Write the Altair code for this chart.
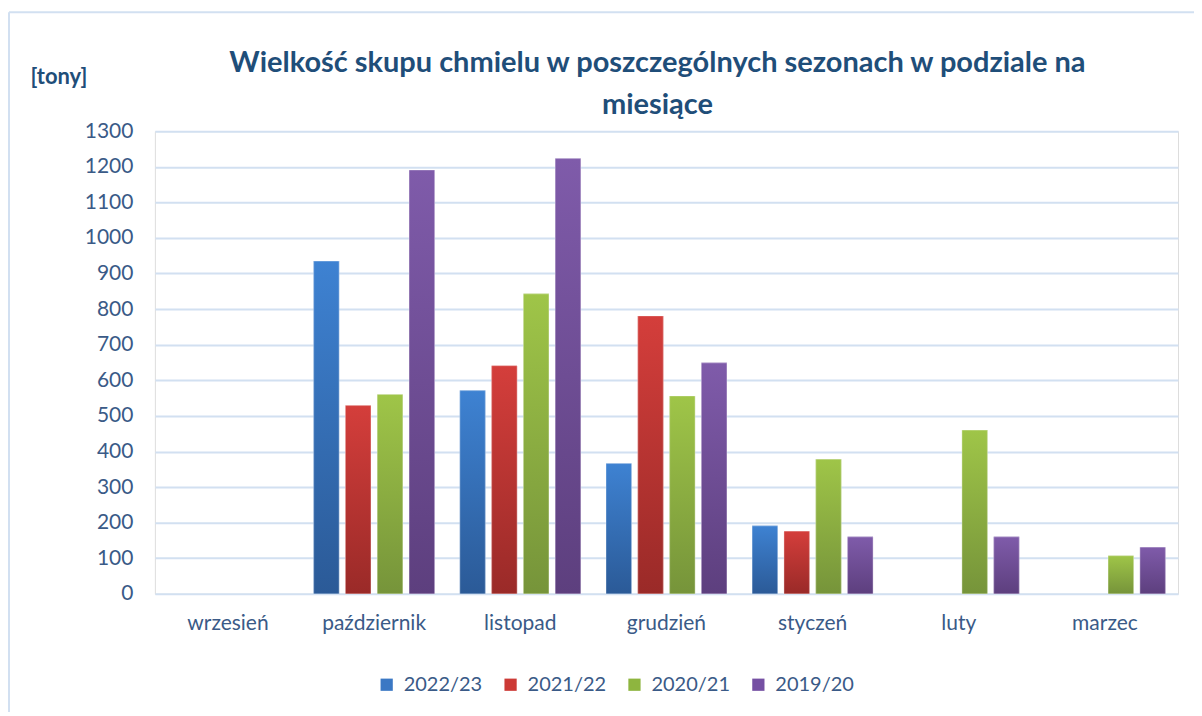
import altair as alt
import pandas as pd

months = ["wrzesień", "październik", "listopad", "grudzień", "styczeń", "luty", "marzec"]
seasons = ["2022/23", "2021/22", "2020/21", "2019/20"]

v_2022_23 = [None, 935, 571, 366, 191, None, None]
v_2021_22 = [None, 529, 641, 781, 176, None, None]
v_2020_21 = [None, 560, 843, 556, 378, 460, 107]
v_2019_20 = [None, 1191, 1223, 649, 160, 160, 131]

legend_colors = ["#3B78C4", "#CC3A36", "#8EB53F", "#7550A3"]
grad_top = ["#3E82D2", "#D43E3B", "#9FC548", "#7F5BAA"]
grad_bot = ["#2B5A97", "#9A2A28", "#76943A", "#5D3F7E"]

rows = []
for s, vals in zip(seasons, [v_2022_23, v_2021_22, v_2020_21, v_2019_20]):
    for m, v in zip(months, vals):
        if v is not None:
            rows.append({"miesiac": m, "sezon": s, "wartosc": v})
df = pd.DataFrame(rows)

FONT = "Lato"
TXT = "#3A5A87"
GRID = "#D2E0F1"

x_enc = alt.X("miesiac:N", sort=months,
              scale=alt.Scale(domain=months, paddingInner=0.173, paddingOuter=0.0865),
              axis=alt.Axis(title=None, labelAngle=0, labelFontSize=21, labelFont=FONT,
                            labelColor=TXT, labelPadding=19, ticks=False, domain=False))
y_enc = alt.Y("wartosc:Q",
              scale=alt.Scale(domain=[0, 1300], nice=False),
              axis=alt.Axis(values=list(range(0, 1301, 100)), format="d", title="[tony]",
                            titleAngle=0, titleAlign="left", titleBaseline="middle",
                            titleX=-125, titleY=-55, titleFont=FONT, titleFontSize=22,
                            titleFontWeight="bold", titleColor="#1F4E79",
                            labelFontSize=21, labelFont=FONT, labelColor=TXT,
                            labelPadding=22, ticks=False, domain=False,
                            gridColor=GRID, gridWidth=2))
xo_enc = alt.XOffset("sezon:N", sort=seasons,
                     scale=alt.Scale(domain=seasons, paddingInner=0.2, paddingOuter=0))

base = alt.Chart(df).mark_bar().encode(
    x=x_enc, y=y_enc, xOffset=xo_enc,
    color=alt.Color("sezon:N", sort=seasons,
                    scale=alt.Scale(domain=seasons, range=legend_colors),
                    legend=alt.Legend(title=None, orient="none", direction="horizontal",
                                      legendX=222, legendY=544, symbolType="square",
                                      symbolSize=150, symbolStrokeWidth=0,
                                      labelFontSize=20, labelFont=FONT, labelColor=TXT,
                                      labelOffset=7, columnPadding=18))
)

layers = [base]
for s, t, b in zip(seasons, grad_top, grad_bot):
    grad = alt.LinearGradient(gradient="linear", x1=0, y1=0, x2=0, y2=1,
                              stops=[alt.GradientStop(color=t, offset=0),
                                     alt.GradientStop(color=b, offset=1)])
    layers.append(
        alt.Chart(df).transform_filter(alt.datum.sezon == s)
        .mark_bar(fill=grad, stroke="#FFFFFF", strokeOpacity=0.35, strokeWidth=1)
        .encode(x=x_enc, y=y_enc, xOffset=xo_enc)
    )

frame_df = pd.DataFrame({"a": [0]})
left_border = alt.Chart(frame_df).mark_rule(color=GRID, strokeWidth=2).encode(
    x=alt.value(-146), y=alt.value(-119), y2=alt.value(590))
top_border = alt.Chart(frame_df).mark_rule(color=GRID, strokeWidth=2).encode(
    x=alt.value(-146), x2=alt.value(1045), y=alt.value(-119))
layers += [left_border, top_border]

chart = alt.layer(*layers).properties(
    width=1024, height=463,
    autosize=alt.AutoSizeParams(type="none"),
    padding={"left": 147, "top": 123, "right": 16, "bottom": 118},
    title=alt.TitleParams(
        text=["Wielkość skupu chmielu w poszczególnych sezonach w podziale na", "miesiące"],
        font=FONT, fontSize=29, fontWeight="bold", color="#1F4E79",
        anchor="middle", lineHeight=42, dx=-9, offset=0, dy=109),
).configure_view(stroke=None).configure(background="white")

chart.save("out.html", embed_options={"renderer": "svg", "actions": False})
